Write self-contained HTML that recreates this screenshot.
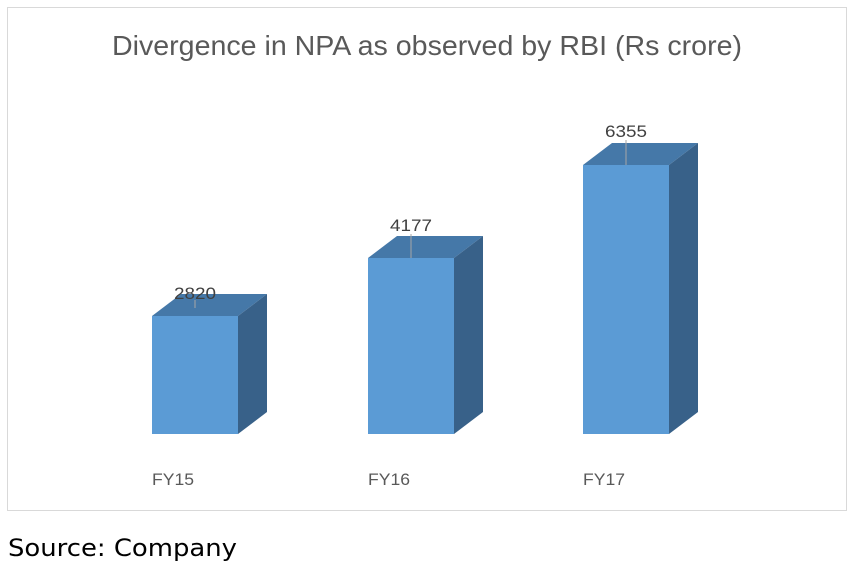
<!DOCTYPE html>
<html><head><meta charset="utf-8"><style>
html,body{margin:0;padding:0;background:#fff;width:853px;height:567px;overflow:hidden}
</style></head><body>
<svg width="853" height="567" xmlns="http://www.w3.org/2000/svg">
<rect x="7.5" y="7.5" width="839" height="503" fill="#fff" stroke="#d9d9d9" stroke-width="1"/>
<text x="112" y="55" textLength="630" lengthAdjust="spacingAndGlyphs" font-family="Liberation Sans, sans-serif" font-size="28" fill="#595959">Divergence in NPA as observed by RBI (Rs crore)</text>
<g>
<polygon points="152,316 181,294 267,294 238,316" fill="#4578a8"/>
<polygon points="238,316 267,294 267,412 238,434" fill="#386189"/>
<rect x="152" y="316" width="86" height="118" fill="#5b9bd5"/>
<line x1="195" y1="300" x2="195" y2="308" stroke="#a6a6a6"/>
<text x="174" y="299" textLength="42" lengthAdjust="spacingAndGlyphs" font-family="Liberation Sans, sans-serif" font-size="17" fill="#404040">2820</text>
</g>
<g>
<polygon points="368,258 397,236 483,236 454,258" fill="#4578a8"/>
<polygon points="454,258 483,236 483,412 454,434" fill="#386189"/>
<rect x="368" y="258" width="86" height="176" fill="#5b9bd5"/>
<line x1="411" y1="234" x2="411" y2="258" stroke="#a6a6a6"/>
<text x="390" y="231" textLength="42" lengthAdjust="spacingAndGlyphs" font-family="Liberation Sans, sans-serif" font-size="17" fill="#404040">4177</text>
</g>
<g>
<polygon points="583,165 612,143 698,143 669,165" fill="#4578a8"/>
<polygon points="669,165 698,143 698,412 669,434" fill="#386189"/>
<rect x="583" y="165" width="86" height="269" fill="#5b9bd5"/>
<line x1="626" y1="140" x2="626" y2="165" stroke="#a6a6a6"/>
<text x="605" y="137" textLength="42" lengthAdjust="spacingAndGlyphs" font-family="Liberation Sans, sans-serif" font-size="17" fill="#404040">6355</text>
</g>
<text x="152" y="485" textLength="42" lengthAdjust="spacingAndGlyphs" font-family="Liberation Sans, sans-serif" font-size="17" fill="#595959">FY15</text>
<text x="368" y="485" textLength="42" lengthAdjust="spacingAndGlyphs" font-family="Liberation Sans, sans-serif" font-size="17" fill="#595959">FY16</text>
<text x="583" y="485" textLength="42" lengthAdjust="spacingAndGlyphs" font-family="Liberation Sans, sans-serif" font-size="17" fill="#595959">FY17</text>
<text x="8" y="556" textLength="229" lengthAdjust="spacingAndGlyphs" font-family="DejaVu Sans, sans-serif" font-size="24" fill="#000">Source: Company</text>
</svg>
</body></html>
